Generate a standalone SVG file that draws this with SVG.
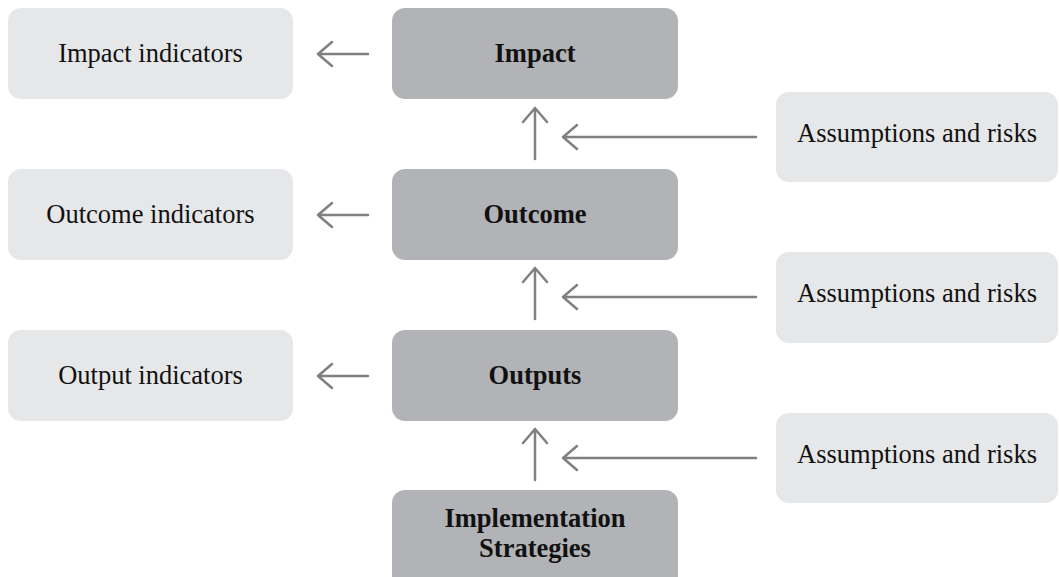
<svg xmlns="http://www.w3.org/2000/svg" width="1059" height="577" viewBox="0 0 1059 577">
<style>
.main{fill:#b1b3b6}
.side{fill:#e6e7e8}
.t{font-family:"Liberation Serif","Times New Roman",serif;font-size:26.5px;fill:#111;text-anchor:middle}
.b{font-weight:bold}
.c{stroke:#808080;stroke-width:2.5;fill:none;stroke-linecap:round;stroke-linejoin:round}
</style>
<rect width="1059" height="577" fill="#fff"/>
<g id="impact-indicators"><rect class="side" x="8" y="8" width="285" height="91" rx="13"/><text class="t" x="150.5" y="62">Impact indicators</text></g>
<g id="outcome-indicators"><rect class="side" x="8" y="169" width="285" height="91" rx="13"/><text class="t" x="150.5" y="223">Outcome indicators</text></g>
<g id="output-indicators"><rect class="side" x="8" y="330" width="285" height="91" rx="13"/><text class="t" x="150.5" y="384">Output indicators</text></g>
<g id="impact"><rect class="main" x="392" y="8" width="286" height="91" rx="13"/><text class="t b" x="535" y="62">Impact</text></g>
<g id="outcome"><rect class="main" x="392" y="169" width="286" height="91" rx="13"/><text class="t b" x="535" y="223">Outcome</text></g>
<g id="outputs"><rect class="main" x="392" y="330" width="286" height="91" rx="13"/><text class="t b" x="535" y="384">Outputs</text></g>
<g id="implementation"><rect class="main" x="392" y="490" width="286" height="100" rx="13"/><text class="t b" x="535" y="527">Implementation</text><text class="t b" x="535" y="557">Strategies</text></g>
<g id="assumptions-1"><rect class="side" x="776" y="92" width="282" height="90" rx="13"/><text class="t" x="917" y="142">Assumptions and risks</text></g>
<g id="assumptions-2"><rect class="side" x="776" y="252" width="282" height="91" rx="13"/><text class="t" x="917" y="302">Assumptions and risks</text></g>
<g id="assumptions-3"><rect class="side" x="776" y="413" width="282" height="90" rx="13"/><text class="t" x="917" y="463">Assumptions and risks</text></g>
<g id="connectors">
<path class="c" d="M368 54H318M332 42L318 54L332 66"/>
<path class="c" d="M368 215H318M332 203L318 215L332 227"/>
<path class="c" d="M368 376H318M332 364L318 376L332 388"/>
<path class="c" d="M535 159V108M523 122L535 108L547 122"/>
<path class="c" d="M535 319V268M523 282L535 268L547 282"/>
<path class="c" d="M535 480V429M523 443L535 429L547 443"/>
<path class="c" d="M756 137H563M577 125L563 137L577 149"/>
<path class="c" d="M756 297H563M577 285L563 297L577 309"/>
<path class="c" d="M756 458H563M577 446L563 458L577 470"/>
</g>
</svg>
